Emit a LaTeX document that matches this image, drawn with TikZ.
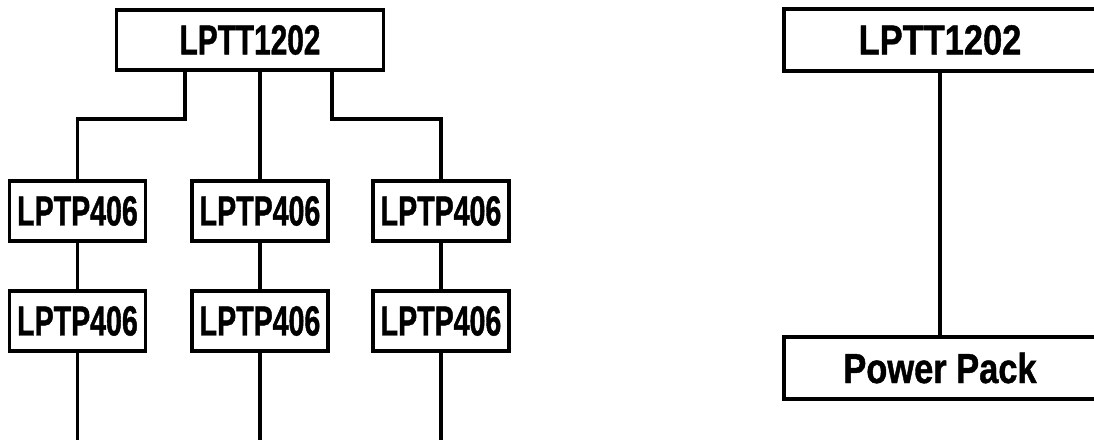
\documentclass[tikz,border=0pt]{standalone}
\usepackage{fontspec}
\setmainfont{Liberation Sans}[FakeStretch=0.82,BoldFeatures={FakeBold=1}]
\newfontfamily\narrowfont{Liberation Sans}[FakeStretch=0.68,BoldFeatures={FakeBold=1}]
\newfontfamily\headfont{Liberation Sans}[FakeStretch=0.71,BoldFeatures={FakeBold=1}]
\usetikzlibrary{positioning,calc}

\begin{document}
\begin{tikzpicture}[x=1pt,y=-1pt,line width=3.5pt,
  box/.style={draw,inner sep=0pt,minimum height=60pt,font=\fontsize{42}{42}\selectfont\bfseries},
  unit/.style={box,minimum width=136pt,font=\fontsize{42}{42}\selectfont\narrowfont\bfseries}]
\useasboundingbox (0,0) rectangle (1094,439);
% left tree
\node[box,minimum width=267pt,font=\fontsize{42}{42}\selectfont\headfont\bfseries] (top) at (250,40) {LPTT1202};
\foreach \i/\x in {1/77.5,2/260,3/441}{
\node[unit] (a\i) at (\x,211) {LPTP406};
\node[unit] (b\i) at (\x,321) {LPTP406};
\draw (a\i.south) -- (b\i.north);
\draw (b\i.south) -- ++(0,90);}
\draw ([xshift=-65pt]top.south) -- ++(0,47) -| (a1.north);
\draw (a2.north) -- (a2.north |- top.south);
\draw ([xshift=82pt]top.south) -- ++(0,47) -| (a3.north);
% right side
\node[box,minimum width=312pt,minimum height=62pt] (lt) at (940,40) {LPTT1202};
\node[box,minimum width=312pt,minimum height=62pt] (pp) at (940,368) {Power Pack};
\draw (lt.south) -- (pp.north);
\end{tikzpicture}
\end{document}
